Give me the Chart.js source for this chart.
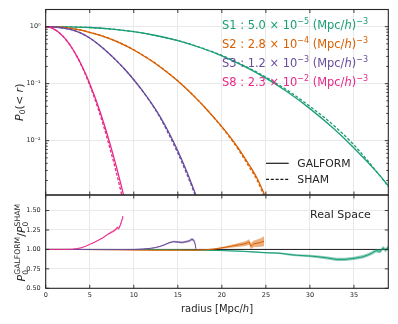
<!DOCTYPE html>
<html><head><meta charset="utf-8">
<script src="https://cdn.jsdelivr.net/npm/chart.js@4"></script>
<style>
html,body{margin:0;padding:0;background:#fff;}
#wrap{position:relative;width:398px;height:324px;overflow:hidden;}
canvas{position:absolute;left:0;top:0;}
</style></head><body>
<div id="wrap"><canvas id="top" width="398" height="324"></canvas><canvas id="bot" width="398" height="324"></canvas></div>
<script>
// ---------------- data ----------------
const sampleNames = ['S1', 'S2', 'S3', 'S8'];
const densityMantissa = ['5.0', '2.8', '1.2', '2.3'];
const densityExponent = ['−5', '−4', '−3', '−2'];
const curveNames = ['GALFORM', 'SHAM'];
const panelLabel = 'Real Space';

const xTicks = [0, 5, 10, 15, 20, 25, 30, 35];
const topYMajor = [1, 0.1, 0.01];
const topYLabels = ['10⁰', '10⁻¹', '10⁻²'];
const botYTicks = [0.5, 0.75, 1.0, 1.25, 1.5];
const botYLabels = ['0.50', '0.75', '1.00', '1.25', '1.50'];

// P0(<r), top panel
const rS1 = [0, 2.5, 5, 7.5, 10, 12.5, 15, 17.5, 20, 22.5, 25, 27.5, 30, 32.5, 35, 37.5, 39, 40];
const p0GalformS1 = [1, 0.994, 0.966, 0.908, 0.817, 0.700, 0.568, 0.431, 0.308, 0.203, 0.125, 0.0705, 0.0365, 0.0173, 0.00745, 0.00292, 0.00156, 0.00102];
const p0ShamS1 = [1, 0.994, 0.966, 0.908, 0.817, 0.700, 0.571, 0.435, 0.313, 0.208, 0.130, 0.0754, 0.0399, 0.0197, 0.00842, 0.00296, 0.00151, 0.00099];

const rS2 = [0, 1, 2, 3, 4, 5, 6, 7, 8, 9, 10, 11, 12, 13, 14, 15, 16, 17, 18, 19, 20, 21, 22, 23, 24, 25];
const p0GalformS2 = [1, 0.993, 0.968, 0.927, 0.869, 0.794, 0.719, 0.638, 0.552, 0.469, 0.390, 0.316, 0.252, 0.196, 0.149, 0.111, 0.0804, 0.0569, 0.0394, 0.0265, 0.0176, 0.0113, 0.00692, 0.00398, 0.00219, 0.0010];
const p0ShamS2 = [1, 0.993, 0.968, 0.927, 0.871, 0.797, 0.723, 0.642, 0.556, 0.473, 0.394, 0.319, 0.255, 0.198, 0.151, 0.112, 0.0812, 0.0574, 0.0396, 0.0264, 0.0173, 0.0109, 0.00653, 0.00367, 0.00203, 0.0009];

const rS3 = [0, 1, 2, 3, 4, 5, 6, 7, 8, 9, 10, 11, 12, 13, 14, 15, 16, 17, 17.5];
const p0GalformS3 = [1, 0.986, 0.946, 0.879, 0.769, 0.631, 0.488, 0.359, 0.256, 0.177, 0.117, 0.0745, 0.0454, 0.0262, 0.0138, 0.00664, 0.00291, 0.00116, 0.00071];
const p0ShamS3 = [1, 0.986, 0.946, 0.879, 0.769, 0.631, 0.488, 0.359, 0.256, 0.177, 0.117, 0.0741, 0.0447, 0.0252, 0.0127, 0.00606, 0.00265, 0.00108, 0.00066];

const rS8 = [0, 0.5, 1, 1.5, 2, 2.5, 3, 3.5, 4, 4.5, 5, 5.5, 6, 6.5, 7, 7.5, 8, 8.5, 9];
const p0GalformS8 = [1, 0.971, 0.897, 0.792, 0.668, 0.540, 0.418, 0.310, 0.222, 0.152, 0.100, 0.0632, 0.0386, 0.0226, 0.0127, 0.00689, 0.00361, 0.00182, 0.00088];
const p0ShamS8 = [1, 0.971, 0.897, 0.792, 0.668, 0.540, 0.418, 0.307, 0.218, 0.146, 0.0939, 0.0580, 0.0345, 0.0197, 0.0107, 0.0056, 0.00284, 0.00136, 0.00062];

// ratio GALFORM/SHAM, bottom panel (value and half-width of shaded band)
const ratioRS1 = [0, 5, 10, 15, 17.5, 20, 22.5, 25, 26.5, 28, 28.5, 30, 31, 32, 33, 34, 35, 36, 36.5, 37, 37.5, 38, 38.3, 38.6, 39];
const ratioS1 = [1, 1, 0.999, 0.995, 0.99, 0.985, 0.975, 0.958, 0.952, 0.93, 0.925, 0.915, 0.905, 0.89, 0.872, 0.872, 0.885, 0.905, 0.925, 0.95, 0.985, 0.975, 1.02, 0.99, 1.04];
const errS1 = [0.001, 0.001, 0.002, 0.003, 0.004, 0.006, 0.008, 0.01, 0.011, 0.013, 0.014, 0.016, 0.018, 0.019, 0.02, 0.021, 0.021, 0.022, 0.022, 0.023, 0.023, 0.024, 0.024, 0.025, 0.025];

const ratioRS2 = [0, 2, 4, 6, 8, 10, 12, 14, 16, 17, 18, 19, 20, 21, 22, 22.5, 22.8, 23.1, 23.3, 23.6, 24, 24.4, 24.8];
const ratioS2 = [1, 1, 0.999, 0.997, 0.995, 0.992, 0.99, 0.99, 0.99, 0.991, 0.995, 1.003, 1.02, 1.04, 1.06, 1.07, 1.08, 1.095, 1.04, 1.07, 1.08, 1.09, 1.105];
const errS2 = [0.001, 0.001, 0.001, 0.002, 0.002, 0.002, 0.003, 0.003, 0.004, 0.005, 0.006, 0.008, 0.012, 0.017, 0.025, 0.03, 0.033, 0.036, 0.038, 0.042, 0.048, 0.055, 0.065];

const ratioRS3 = [0, 2, 4, 6, 8, 10, 11, 12, 12.5, 13, 13.5, 14, 14.5, 15, 15.5, 16, 16.3, 16.6, 16.8, 16.95, 17.05];
const ratioS3 = [1, 1, 0.999, 0.998, 0.998, 1.0, 1.005, 1.015, 1.025, 1.04, 1.06, 1.085, 1.1, 1.095, 1.09, 1.1, 1.11, 1.13, 1.12, 1.08, 1.01];
const errS3 = [0.001, 0.001, 0.001, 0.002, 0.002, 0.003, 0.004, 0.005, 0.006, 0.008, 0.009, 0.01, 0.011, 0.012, 0.013, 0.014, 0.015, 0.017, 0.018, 0.02, 0.02];

const ratioRS8 = [0, 1, 2, 3, 3.5, 4, 4.5, 5, 5.5, 6, 6.5, 7, 7.3, 7.6, 7.9, 8.1, 8.3, 8.5, 8.6, 8.7, 8.75];
const ratioS8 = [1, 1, 1, 1.002, 1.01, 1.02, 1.04, 1.065, 1.09, 1.12, 1.15, 1.19, 1.21, 1.23, 1.25, 1.28, 1.27, 1.32, 1.36, 1.39, 1.43];
const errS8 = [0.001, 0.001, 0.001, 0.002, 0.003, 0.004, 0.005, 0.006, 0.007, 0.008, 0.01, 0.012, 0.013, 0.015, 0.016, 0.018, 0.02, 0.022, 0.025, 0.028, 0.03];

const unityLineX = [0, 38.9];
const unityLineY = [1, 1];

// ---------------- styles ----------------
const X_MAX = 38.9;
const TOP_Y_MIN = 0.001114, TOP_Y_MAX = 2.0;
const BOT_Y_MIN = 0.5, BOT_Y_MAX = 1.7;
const COLORS = ['#1b9e77', '#d95f02', '#6a4c9c', '#e7298a'];
const BANDS = ['rgba(27,158,119,0.5)', 'rgba(217,95,2,0.5)', 'rgba(106,76,156,0.5)', 'rgba(231,41,138,0.5)'];
const GRID = '#e9e9e9';
const TXT = '#262626';
const FAM = '"DejaVu Sans"';
Chart.defaults.font.family = FAM;

const topSeries = [
  [rS1, p0GalformS1, p0ShamS1],
  [rS2, p0GalformS2, p0ShamS2],
  [rS3, p0GalformS3, p0ShamS3],
  [rS8, p0GalformS8, p0ShamS8]
];
const botSeries = [
  [ratioRS1, ratioS1, errS1],
  [ratioRS2, ratioS2, errS2],
  [ratioRS3, ratioS3, errS3],
  [ratioRS8, ratioS8, errS8]
];

const pts = (xs, ys) => xs.map((x, i) => ({ x, y: ys[i] }));

const topDatasets = [];
topSeries.forEach((s, k) => {
  const order = 10 - k * 2;
  topDatasets.push({ data: pts(s[0], s[1]), borderColor: COLORS[k], borderWidth: 1.3, cubicInterpolationMode: 'monotone', fill: false, order: order });
  topDatasets.push({ data: pts(s[0], s[2]), borderColor: COLORS[k], borderWidth: 1.3, borderDash: [3, 1.8], cubicInterpolationMode: 'monotone', fill: false, order: order + 1 });
});

const botDatasets = [];
botDatasets.push({ data: pts(unityLineX, unityLineY), borderColor: '#1a1a1a', borderWidth: 1, fill: false, order: 100 });
botSeries.forEach((s, k) => {
  const order = 20 - k * 3;
  const lo = s[1].map((v, i) => v - s[2][i]);
  const hi = s[1].map((v, i) => v + s[2][i]);
  botDatasets.push({ data: pts(s[0], lo), borderWidth: 0, borderColor: 'rgba(0,0,0,0)', fill: false, order: order + 2 });
  botDatasets.push({ data: pts(s[0], hi), borderWidth: 0, borderColor: 'rgba(0,0,0,0)', backgroundColor: BANDS[k], fill: '-1', order: order + 1 });
  botDatasets.push({ data: pts(s[0], s[1]), borderColor: COLORS[k], borderWidth: 1, fill: false, order: order });
});

// ---------------- text helpers ----------------
function layoutRuns(ctx, runs, size) {
  let w = 0; const items = [];
  for (const r of runs) {
    if (r.stack) {
      const font = `${size * 0.7}px ${FAM}`;
      ctx.font = font;
      const w1 = ctx.measureText(r.stack[0]).width, w2 = ctx.measureText(r.stack[1]).width;
      items.push({ t: r.stack[0], font, x: w, dy: size * 0.24 });
      items.push({ t: r.stack[1], font, x: w, dy: -size * 0.42 });
      w += Math.max(w1, w2);
    } else {
      const fs = (r.sub || r.sup) ? size * 0.7 : size;
      const font = `${r.it ? 'italic ' : ''}${fs}px ${FAM}`;
      ctx.font = font;
      const tw = ctx.measureText(r.t).width;
      items.push({ t: r.t, font, x: w, dy: r.sup ? -size * 0.42 : r.sub ? size * 0.22 : 0 });
      w += tw;
    }
  }
  return { items, width: w };
}
function drawRuns(ctx, runs, x, y, size, color, align, sx) {
  sx = sx || 1;
  const { items, width } = layoutRuns(ctx, runs, size);
  const x0 = align === 'center' ? x - width * sx / 2 : align === 'right' ? x - width * sx : x;
  ctx.save();
  ctx.translate(x0, y); ctx.scale(sx, 1);
  ctx.fillStyle = color; ctx.textBaseline = 'alphabetic'; ctx.textAlign = 'left';
  for (const it of items) { ctx.font = it.font; ctx.fillText(it.t, it.x, it.dy); }
  ctx.restore();
  return width * sx;
}
function drawRotated(ctx, runs, cx, cy, size, color) {
  ctx.save(); ctx.translate(cx, cy); ctx.rotate(-Math.PI / 2);
  drawRuns(ctx, runs, 0, 0, size, color, 'center');
  ctx.restore();
}
function frameAndTicks(chart, xMaj, yMaj, yMin) {
  const { ctx, chartArea: a, scales: { x, y } } = chart;
  ctx.save();
  ctx.strokeStyle = TXT; ctx.lineWidth = 0.9;
  ctx.beginPath();
  xMaj.forEach(v => { const p = x.getPixelForValue(v); ctx.moveTo(p, a.bottom); ctx.lineTo(p, a.bottom - 3.5); ctx.moveTo(p, a.top); ctx.lineTo(p, a.top + 3.5); });
  yMaj.forEach(v => { const p = y.getPixelForValue(v); ctx.moveTo(a.left, p); ctx.lineTo(a.left + 3.5, p); ctx.moveTo(a.right, p); ctx.lineTo(a.right - 3.5, p); });
  yMin.forEach(v => { const p = y.getPixelForValue(v); ctx.moveTo(a.left, p); ctx.lineTo(a.left + 2, p); ctx.moveTo(a.right, p); ctx.lineTo(a.right - 2, p); });
  ctx.stroke();
  ctx.lineWidth = 1.1;
  ctx.strokeRect(a.left, a.top, a.right - a.left, a.bottom - a.top);
  ctx.restore();
}

const topYMinor = [];
[0.001, 0.01, 0.1, 1].forEach(d => { for (let m = 2; m <= 9; m++) { const v = m * d; if (v >= TOP_Y_MIN && v <= TOP_Y_MAX) topYMinor.push(v); } });

const topDecor = {
  id: 'topDecor',
  afterDraw(chart) {
    const ctx = chart.ctx;
    frameAndTicks(chart, xTicks, topYMajor, topYMinor);
    const rows = sampleNames.map((n, i) => [{ t: `${n} : ${densityMantissa[i]} × 10` }, { t: densityExponent[i], sup: true }, { t: ' (Mpc/' }, { t: 'h', it: true }, { t: ')' }, { t: '−3', sup: true }]);
    const size = 12.5;
    const w0 = layoutRuns(ctx, rows[0], size).width;
    const sx = Math.min(1, 146 / w0);
    const baselines = [29.3, 48.3, 67.2, 86.0];
    rows.forEach((r, i) => drawRuns(ctx, r, 222, baselines[i], size, COLORS[i], 'left', sx));
    ctx.save();
    ctx.strokeStyle = '#1a1a1a'; ctx.lineWidth = 1.2;
    ctx.beginPath(); ctx.moveTo(266, 163.3); ctx.lineTo(288.7, 163.3); ctx.stroke();
    ctx.setLineDash([3, 1.8]);
    ctx.beginPath(); ctx.moveTo(266, 179.3); ctx.lineTo(288.7, 179.3); ctx.stroke();
    ctx.restore();
    drawRuns(ctx, [{ t: curveNames[0] }], 297.3, 167.2, 10.8, TXT, 'left');
    drawRuns(ctx, [{ t: curveNames[1] }], 297.3, 183.2, 10.8, TXT, 'left');
    const a = chart.chartArea;
    drawRotated(ctx, [{ t: 'P', it: true }, { t: '0', sub: true }, { t: '(< ' }, { t: 'r', it: true }, { t: ')' }], 23, (a.top + a.bottom) / 2, 11, TXT);
  }
};

const botDecor = {
  id: 'botDecor',
  afterDraw(chart) {
    const ctx = chart.ctx;
    frameAndTicks(chart, xTicks, botYTicks, []);
    drawRuns(ctx, [{ t: panelLabel }], 310, 218.3, 11, TXT, 'left');
    const a = chart.chartArea;
    drawRuns(ctx, [{ t: 'radius [Mpc/' }, { t: 'h', it: true }, { t: ']' }], (a.left + a.right) / 2, 311.5, 10, TXT, 'center');
    drawRotated(ctx, [{ t: 'P', it: true }, { stack: ['0', 'GALFORM'] }, { t: '/' }, { t: 'P', it: true }, { stack: ['0', 'SHAM'] }], 25, (a.top + a.bottom) / 2 + 1, 11, TXT);
  }
};

const isIn = (arr, v) => arr.findIndex(m => Math.abs(m - v) < 1e-9 * Math.max(1, Math.abs(m)));

new Chart(document.getElementById('top'), {
  type: 'line',
  data: { datasets: topDatasets },
  options: {
    responsive: false, animation: false, devicePixelRatio: 1,
    layout: { padding: { left: 0, right: 9.7, top: 9.5, bottom: 129 } },
    elements: { point: { radius: 0 } },
    plugins: { legend: { display: false }, tooltip: { enabled: false } },
    scales: {
      x: {
        type: 'linear', min: 0, max: X_MAX,
        afterBuildTicks: s => { s.ticks = xTicks.map(v => ({ value: v })); },
        afterFit: s => { s.height = 0; },
        ticks: { display: false },
        grid: { color: GRID, lineWidth: 1, drawTicks: false },
        border: { display: false }
      },
      y: {
        type: 'logarithmic', min: TOP_Y_MIN, max: TOP_Y_MAX,
        afterBuildTicks: s => { s.ticks = topYMajor.concat(topYMinor).map(v => ({ value: v })); },
        afterFit: s => { s.width = 45.7; },
        ticks: {
          autoSkip: false, padding: 5, color: TXT, font: { size: 6.5 },
          callback: v => { const i = isIn(topYMajor, v); return i >= 0 ? topYLabels[i] : ''; }
        },
        grid: { drawTicks: false, lineWidth: 1, color: c => (c.tick && isIn(topYMajor, c.tick.value) >= 0) ? GRID : 'rgba(0,0,0,0)' },
        border: { display: false }
      }
    }
  },
  plugins: [topDecor]
});

new Chart(document.getElementById('bot'), {
  type: 'line',
  data: { datasets: botDatasets },
  options: {
    responsive: false, animation: false, devicePixelRatio: 1,
    layout: { padding: { left: 0, right: 9.7, top: 195, bottom: 0 } },
    elements: { point: { radius: 0 }, line: { tension: 0 } },
    plugins: { legend: { display: false }, tooltip: { enabled: false } },
    scales: {
      x: {
        type: 'linear', min: 0, max: X_MAX,
        afterBuildTicks: s => { s.ticks = xTicks.map(v => ({ value: v })); },
        afterFit: s => { s.height = 35.7; },
        ticks: { autoSkip: false, padding: 3, color: TXT, font: { size: 6.5 }, maxRotation: 0, callback: v => String(v) },
        grid: { color: GRID, lineWidth: 1, drawTicks: false },
        border: { display: false }
      },
      y: {
        type: 'linear', min: BOT_Y_MIN, max: BOT_Y_MAX,
        afterBuildTicks: s => { s.ticks = botYTicks.map(v => ({ value: v })); },
        afterFit: s => { s.width = 45.7; },
        ticks: { autoSkip: false, padding: 5, color: TXT, font: { size: 6.5 }, callback: v => { const i = isIn(botYTicks, v); return i >= 0 ? botYLabels[i] : ''; } },
        grid: { color: GRID, lineWidth: 1, drawTicks: false },
        border: { display: false }
      }
    }
  },
  plugins: [botDecor]
});
</script>
</body></html>
